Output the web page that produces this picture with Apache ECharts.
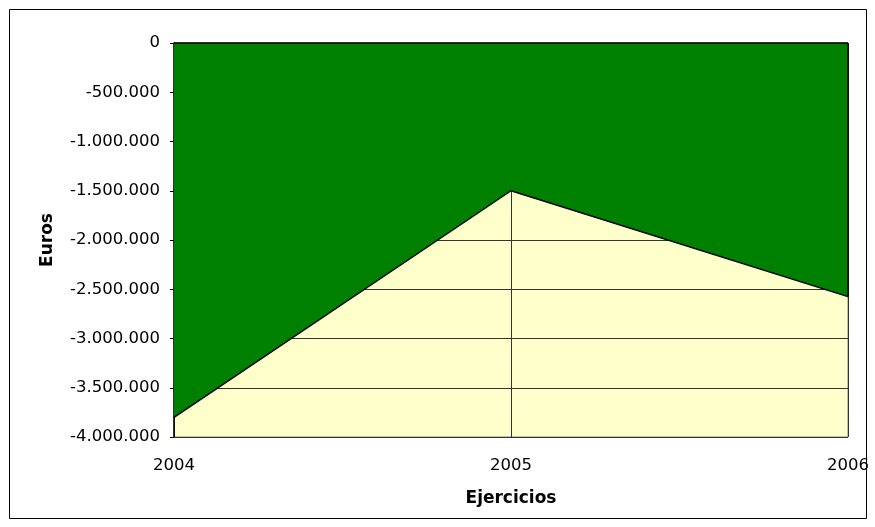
<!DOCTYPE html>
<html lang="es">
  <head>
    <meta charset="UTF-8" />
    <title>Ejercicios</title>
    <script src="https://cdn.jsdelivr.net/npm/echarts@6/dist/echarts.min.js"></script>
    <style>
      html, body { margin: 0; padding: 0; background: #fff; }
    </style>
  </head>
  <body>
    <div id="chart" style="width: 875px; height: 527px"></div>
    <script>
      // datos
      const years = ['2004', '2005', '2006']
      const euros = [-3800000, -1500000, -2575000]

      const fmt = v => {
        const s = Math.abs(v).toString().replace(/\B(?=(\d{3})+(?!\d))/g, '.')
        return (v < 0 ? '-' : '') + s
      }

      const chart = echarts.init(document.getElementById('chart'))
      const font = 'DejaVu Sans, Verdana, sans-serif'

      chart.setOption({
        animation: false,
        textStyle: { fontFamily: font },
        graphic: [
          {
            type: 'rect',
            shape: { x: 9.5, y: 9.5, width: 857, height: 509 },
            style: { fill: 'none', stroke: '#000', lineWidth: 1 },
            z: -10,
          },
        ],
        grid: {
          left: 174,
          top: 43,
          right: 27,
          bottom: 90,
          show: true,
          backgroundColor: '#FFFFCC',
          borderColor: '#808080',
          borderWidth: 1,
        },
        xAxis: {
          type: 'category',
          data: years,
          boundaryGap: false,
          name: 'Ejercicios',
          nameLocation: 'middle',
          nameGap: 53,
          nameTextStyle: { fontWeight: 'bold', fontSize: 17, color: '#000', fontFamily: font },
          axisLine: { lineStyle: { color: '#808080', width: 1 } },
          axisTick: { show: false },
          axisLabel: { color: '#000', fontSize: 16.5, margin: 20, fontFamily: font },
          splitLine: { show: true, lineStyle: { color: '#333', width: 1 } },
        },
        yAxis: {
          type: 'value',
          min: -4000000,
          max: 0,
          interval: 500000,
          name: 'Euros',
          nameLocation: 'middle',
          nameGap: 118,
          nameRotate: 90,
          nameTextStyle: { fontWeight: 'bold', fontSize: 17, color: '#000', fontFamily: font },
          axisLine: { show: true, lineStyle: { color: '#000', width: 1.5 } },
          axisTick: { show: true, length: 4, lineStyle: { color: '#000' } },
          axisLabel: { color: '#000', fontSize: 16.5, margin: 14, formatter: fmt, fontFamily: font },
          splitLine: { show: true, lineStyle: { color: '#333', width: 1 } },
        },
        series: [
          {
            type: 'line',
            data: euros,
            symbol: 'none',
            lineStyle: { color: '#000', width: 1.5 },
            areaStyle: { color: '#008000', opacity: 1, origin: 'end' },
            markLine: {
              silent: true,
              symbol: 'none',
              label: { show: false },
              lineStyle: { color: '#000', width: 1.5, type: 'solid' },
              data: [
                { yAxis: 0 },
                [
                  { coord: [years[2], 0] },
                  { coord: [years[2], euros[2]] },
                ],
              ],
            },
          },
        ],
      })
    </script>
  </body>
</html>
